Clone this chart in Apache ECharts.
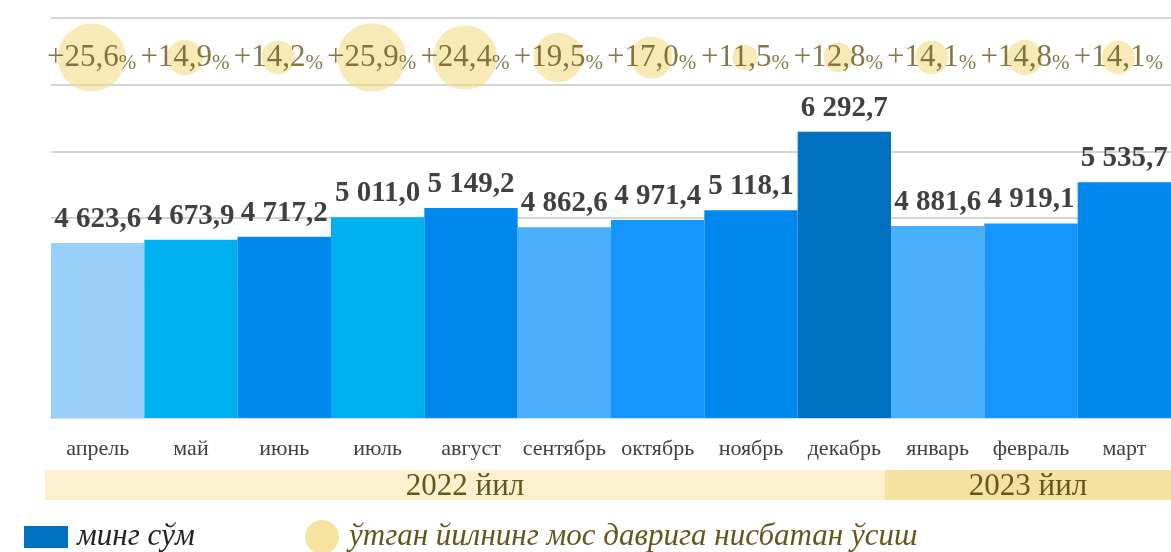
<!DOCTYPE html>
<html><head><meta charset="utf-8">
<script src="https://cdn.jsdelivr.net/npm/echarts@6/dist/echarts.min.js"></script>
<style>html,body{margin:0;padding:0;background:#fff}#c{width:1171px;height:552px}</style>
</head><body><div id="c"></div>
<script>
const months = ['апрель','май','июнь','июль','август','сентябрь','октябрь','ноябрь','декабрь','январь','февраль','март'];
const values = [4623.6,4673.9,4717.2,5011.0,5149.2,4862.6,4971.4,5118.1,6292.7,4881.6,4919.1,5535.7];
const growth = [25.6,14.9,14.2,25.9,24.4,19.5,17.0,11.5,12.8,14.1,14.8,14.1];
const barColors = ['#9acffa','#00b0ee','#0088ee','#00b0ee','#0088ee','#4ab0fe','#1496fe','#0088ee','#0070c0','#4ab0fe','#1496fe','#0088ee'];
const yearLabels = ['2022 йил','2023 йил'];
const yearSpans = [9,3];
const yearColors = ['#fbf1cf','#f5e2a3'];
const yMin = 2000, yMax = 8000, yInterval = 1000;
const legendBar = 'минг сўм';
const legendBubble = 'ўтган йилнинг мос даврига нисбатан ўсиш';

const SERIF = '"Liberation Serif","DejaVu Serif",serif';
const OLIVE = '#65561c';

function fmt(v){
  const s = v.toFixed(1).split('.');
  return s[0].replace(/\B(?=(\d{3})+(?!\d))/g,' ') + ',' + s[1];
}

const chart = echarts.init(document.getElementById('c'), null, {renderer:'canvas'});
const option = {
  animation:false,
  grid:[
    {left:51,right:0,top:18,bottom:134},
    {left:51,right:0,top:24,height:67}
  ],
  xAxis:[
    {type:'category',gridIndex:0,data:months,
     axisLine:{show:true,lineStyle:{color:'#d9d9d9',width:2}},
     axisTick:{show:false},
     axisLabel:{interval:0,fontFamily:SERIF,fontSize:22,color:'#404040',margin:20}},
    {type:'category',gridIndex:1,data:months,show:false}
  ],
  yAxis:[
    {type:'value',gridIndex:0,min:yMin,max:yMax,interval:yInterval,
     axisLabel:{show:false},axisLine:{show:false},axisTick:{show:false},
     splitLine:{lineStyle:{color:'#d4d4d4',width:2}}},
    {type:'value',gridIndex:1,min:0,max:1,show:false,splitLine:{show:false}}
  ],
  series:[
    {type:'bar',name:legendBar,xAxisIndex:0,yAxisIndex:0,barCategoryGap:'0%',
     itemStyle:{color:'#0070c0'},
     data:values.map((v,i)=>({value:v,itemStyle:{color:barColors[i]}})),
     label:{show:true,position:'top',distance:9,fontFamily:SERIF,fontWeight:'bold',fontSize:29,color:'#404040',
       formatter:p=>fmt(p.value)}},
    {type:'scatter',name:legendBubble,xAxisIndex:1,yAxisIndex:1,
     data:growth.map((g,i)=>[i,0.5,g]),
     symbolSize:v=>(v[2]-3)*3,
     symbolOffset:[-6,0],
     itemStyle:{color:'rgba(242,220,135,0.75)'},
     label:{show:true,position:'inside',offset:[0,0],
       formatter:p=>'{n|+'+p.value[2].toFixed(1).replace('.',',')+'}{s|%}',
       rich:{
         n:{fontFamily:SERIF,fontSize:31,color:OLIVE,verticalAlign:'bottom',lineHeight:32},
         s:{fontFamily:SERIF,fontSize:21,color:OLIVE,verticalAlign:'bottom',lineHeight:27}
       }}}
  ]
};
chart.setOption(option);

const c0 = chart.convertToPixel({xAxisIndex:0}, 0);
const c1 = chart.convertToPixel({xAxisIndex:0}, 1);
const bw = c1 - c0;
let start = 0;
const graphics = [];
yearLabels.forEach((lab,k)=>{
  let x0 = c0 - bw/2 + start*bw - 6;
  let x1 = c0 - bw/2 + (start+yearSpans[k])*bw - (k===0 ? 6 : 0);
  graphics.push({type:'rect',shape:{x:x0,y:470,width:x1-x0,height:30},style:{fill:yearColors[k]},silent:true,z:0});
  graphics.push({type:'text',x:(x0+x1)/2,y:487,style:{text:lab,font:'31px '+SERIF,fill:OLIVE,textAlign:'center',textVerticalAlign:'middle'},z:1});
  start += yearSpans[k];
});
graphics.push({type:'rect',shape:{x:24,y:526,width:44,height:22},style:{fill:'#0070c0'}});
graphics.push({type:'text',x:77,y:537,style:{text:legendBar,font:'italic 31px '+SERIF,fill:'#222',textVerticalAlign:'middle'}});
graphics.push({type:'circle',shape:{cx:322,cy:537,r:17},style:{fill:'rgba(242,220,135,0.8)'}});
graphics.push({type:'text',x:349,y:537,style:{text:legendBubble,font:'italic 31px '+SERIF,fill:OLIVE,textVerticalAlign:'middle'}});
chart.setOption({graphic:graphics});
</script>
</body></html>
